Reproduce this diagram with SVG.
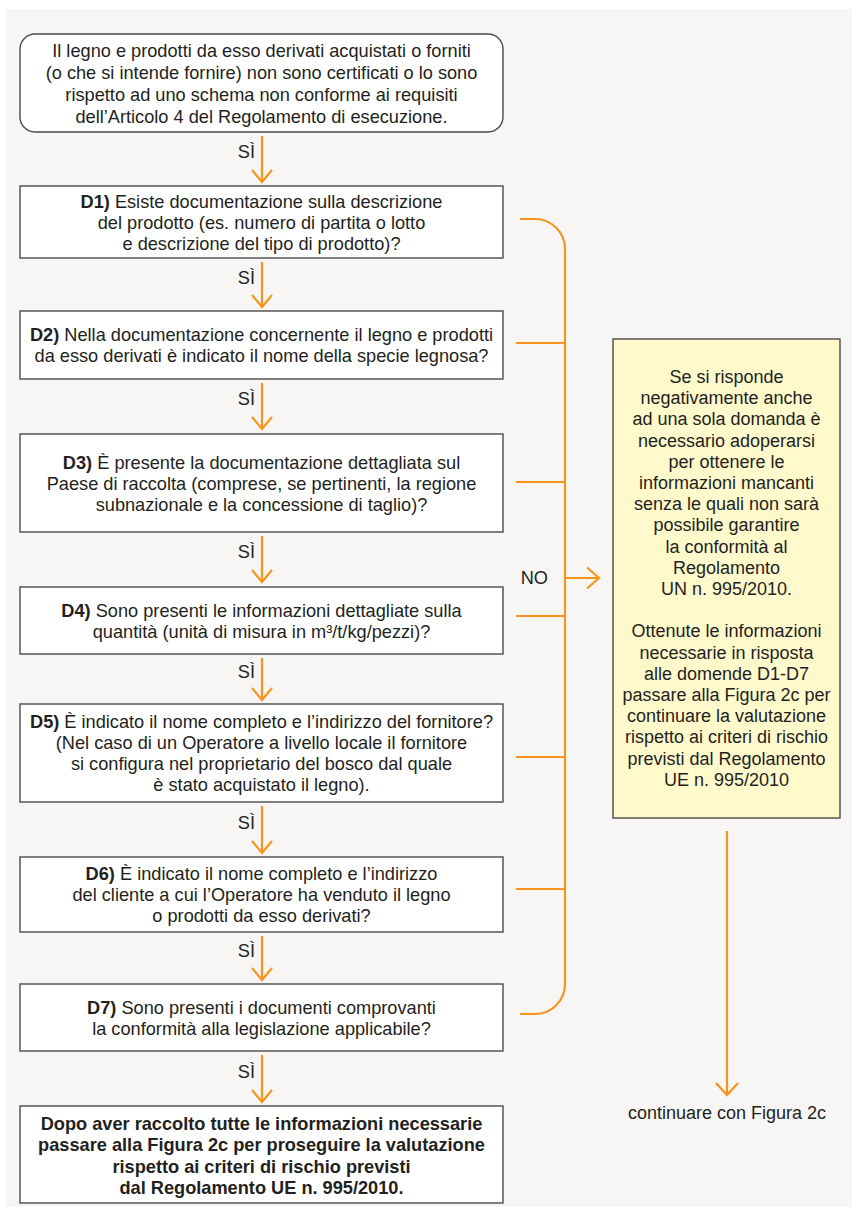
<svg xmlns="http://www.w3.org/2000/svg" width="852" height="1213" viewBox="0 0 852 1213">
<defs>
<style>
.t{font-family:"Liberation Sans",Arial,sans-serif;font-size:18.2px;fill:#231f20;text-anchor:middle}
.y{font-family:"Liberation Sans",Arial,sans-serif;font-size:18px;fill:#231f20;text-anchor:middle}
.b{font-weight:bold}
.box{fill:#ffffff;stroke:#4a4a4a;stroke-width:1.4}
.ybox{fill:#fff9cc;stroke:#4a4a4a;stroke-width:1.4}
.c{fill:none;stroke:#f7941e;stroke-width:2.2}
</style>
</defs>
<rect x="6" y="9" width="846" height="1198" fill="#f7f6f4"/>

<g id="start">
<rect class="box" x="20" y="34" width="483" height="98" rx="15"/>
<text class="t" x="261.5" y="56.5">Il legno e prodotti da esso derivati acquistati o forniti</text>
<text class="t" x="261.5" y="78.5">(o che si intende fornire) non sono certificati o lo sono</text>
<text class="t" x="261.5" y="100.5">rispetto ad uno schema non conforme ai requisiti</text>
<text class="t" x="261.5" y="122.5">dell’Articolo 4 del Regolamento di esecuzione.</text>
</g>

<g id="d1">
<rect class="box" x="20" y="186" width="483" height="72"/>
<text class="t" x="261.5" y="208"><tspan class="b">D1)</tspan> Esiste documentazione sulla descrizione</text>
<text class="t" x="261.5" y="229">del prodotto (es. numero di partita o lotto</text>
<text class="t" x="261.5" y="250">e descrizione del tipo di prodotto)?</text>
</g>

<g id="d2">
<rect class="box" x="20" y="311" width="483" height="68"/>
<text class="t" x="261.5" y="341"><tspan class="b">D2)</tspan> Nella documentazione concernente il legno e prodotti</text>
<text class="t" x="261.5" y="362">da esso derivati è indicato il nome della specie legnosa?</text>
</g>

<g id="d3">
<rect class="box" x="20" y="434" width="483" height="98"/>
<text class="t" x="261.5" y="468.5"><tspan class="b">D3)</tspan> È presente la documentazione dettagliata sul</text>
<text class="t" x="261.5" y="489.5">Paese di raccolta (comprese, se pertinenti, la regione</text>
<text class="t" x="261.5" y="510.5">subnazionale e la concessione di taglio)?</text>
</g>

<g id="d4">
<rect class="box" x="20" y="587" width="483" height="67"/>
<text class="t" x="261.5" y="616.5"><tspan class="b">D4)</tspan> Sono presenti le informazioni dettagliate sulla</text>
<text class="t" x="261.5" y="637.5">quantità (unità di misura in m³/t/kg/pezzi)?</text>
</g>

<g id="d5">
<rect class="box" x="20" y="704" width="483" height="98"/>
<text class="t" x="261.5" y="728"><tspan class="b">D5)</tspan> È indicato il nome completo e l’indirizzo del fornitore?</text>
<text class="t" x="261.5" y="749">(Nel caso di un Operatore a livello locale il fornitore</text>
<text class="t" x="261.5" y="770">si configura nel proprietario del bosco dal quale</text>
<text class="t" x="261.5" y="791">è stato acquistato il legno).</text>
</g>

<g id="d6">
<rect class="box" x="20" y="857" width="483" height="75"/>
<text class="t" x="261.5" y="880"><tspan class="b">D6)</tspan> È indicato il nome completo e l’indirizzo</text>
<text class="t" x="261.5" y="901">del cliente a cui l’Operatore ha venduto il legno</text>
<text class="t" x="261.5" y="922">o prodotti da esso derivati?</text>
</g>

<g id="d7">
<rect class="box" x="20" y="984" width="483" height="67"/>
<text class="t" x="261.5" y="1014"><tspan class="b">D7)</tspan> Sono presenti i documenti comprovanti</text>
<text class="t" x="261.5" y="1035">la conformità alla legislazione applicabile?</text>
</g>

<g id="final">
<rect class="box" x="20" y="1106" width="483" height="97"/>
<text class="t b" x="261.5" y="1129.5">Dopo aver raccolto tutte le informazioni necessarie</text>
<text class="t b" x="261.5" y="1151">passare alla Figura 2c per proseguire la valutazione</text>
<text class="t b" x="261.5" y="1172.5">rispetto ai criteri di rischio previsti</text>
<text class="t b" x="261.5" y="1194">dal Regolamento UE n. 995/2010.</text>
</g>

<g id="note">
<rect class="ybox" x="613" y="339" width="227" height="479"/>
<text class="y" x="726.5" y="383">Se si risponde</text>
<text class="y" x="726.5" y="404.2">negativamente anche</text>
<text class="y" x="726.5" y="425.4">ad una sola domanda è</text>
<text class="y" x="726.5" y="446.6">necessario adoperarsi</text>
<text class="y" x="726.5" y="467.8">per ottenere le</text>
<text class="y" x="726.5" y="489">informazioni mancanti</text>
<text class="y" x="726.5" y="510.2">senza le quali non sarà</text>
<text class="y" x="726.5" y="531.4">possibile garantire</text>
<text class="y" x="726.5" y="552.6">la conformità al</text>
<text class="y" x="726.5" y="573.8">Regolamento</text>
<text class="y" x="726.5" y="595">UN n. 995/2010.</text>
<text class="y" x="726.5" y="637.4">Ottenute le informazioni</text>
<text class="y" x="726.5" y="658.6">necessarie in risposta</text>
<text class="y" x="726.5" y="679.8">alle domende D1-D7</text>
<text class="y" x="726.5" y="701">passare alla Figura 2c per</text>
<text class="y" x="726.5" y="722.2">continuare la valutazione</text>
<text class="y" x="726.5" y="743.4">rispetto ai criteri di rischio</text>
<text class="y" x="726.5" y="764.6">previsti dal Regolamento</text>
<text class="y" x="726.5" y="785.8">UE n. 995/2010</text>
</g>

<g id="end">
<text class="y" x="727" y="1119">continuare con Figura 2c</text>
</g>

<g id="connectors">
<path class="c" d="M262,136 V182 M252,170 L262,182 L272,170"/>
<path class="c" d="M262,262 V307 M252,295 L262,307 L272,295"/>
<path class="c" d="M262,383 V429 M252,417 L262,429 L272,417"/>
<path class="c" d="M262,536 V582 M252,570 L262,582 L272,570"/>
<path class="c" d="M262,658 V700 M252,688 L262,700 L272,688"/>
<path class="c" d="M262,806 V853 M252,841 L262,853 L272,841"/>
<path class="c" d="M262,936 V980 M252,968 L262,980 L272,968"/>
<path class="c" d="M262,1055 V1102 M252,1090 L262,1102 L272,1090"/>
<path class="c" d="M520,219 H535 A30,30 0 0 1 565,249 V984 A30,30 0 0 1 535,1014 H520"/>
<path class="c" d="M516,343 H565 M516,482 H565 M516,616 H565 M516,757 H565 M516,889 H565"/>
<path class="c" d="M565,578 H599 M587,567.5 L599,578 L587,588.5"/>
<path class="c" d="M727,831 V1095 M716,1083 L727,1095 L738,1083"/>
<text class="t" x="255" y="158" text-anchor="end" style="text-anchor:end">SÌ</text>
<text class="t" x="255" y="283.5" style="text-anchor:end">SÌ</text>
<text class="t" x="255" y="405" style="text-anchor:end">SÌ</text>
<text class="t" x="255" y="558" style="text-anchor:end">SÌ</text>
<text class="t" x="255" y="678" style="text-anchor:end">SÌ</text>
<text class="t" x="255" y="828.5" style="text-anchor:end">SÌ</text>
<text class="t" x="255" y="957" style="text-anchor:end">SÌ</text>
<text class="t" x="255" y="1077.5" style="text-anchor:end">SÌ</text>
<text class="t" x="548" y="584" style="text-anchor:end">NO</text>
</g>
</svg>
